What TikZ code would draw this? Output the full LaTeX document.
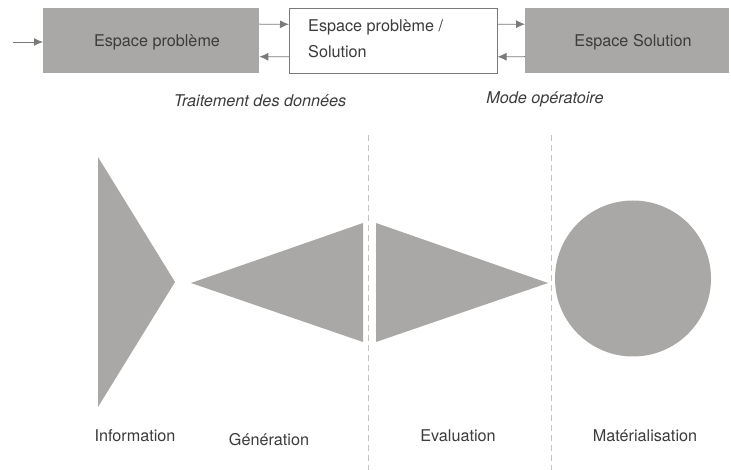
\documentclass[tikz,border=0pt]{standalone}
\usepackage{fontspec}
\setmainfont{TeX Gyre Heros}
\usetikzlibrary{arrows.meta}
\definecolor{shade}{HTML}{AAA7A7}
\definecolor{ink}{HTML}{3C3C3C}
\definecolor{wire}{HTML}{7A7A7A}
\definecolor{rule}{HTML}{C4C4C4}
\tikzset{
  graybox/.style={draw=none, fill=shade, minimum height=65pt, inner sep=0pt, text=ink},
  whitebox/.style={draw=wire, line width=0.6pt, fill=white, minimum height=65pt, inner sep=0pt},
  arr/.style={draw=wire, line width=0.9pt, -{Latex[length=9pt,width=8pt]}},
  txt/.style={text=ink, font=\fontsize{16.2}{19}\selectfont, inner sep=0pt},
  itxt/.style={txt, font=\fontsize{16.2}{19}\selectfont\itshape},
  phaseshape/.style={fill=shade, draw=none},
  sep/.style={draw=rule, line width=0.6pt, dash pattern=on 6pt off 4pt}
}
\begin{document}
\begin{tikzpicture}[x=1pt,y=-1pt]
\useasboundingbox[fill=white] (0,0) rectangle (731,470);

% top row: the three spaces
\node[graybox, minimum width=216pt, anchor=north west] (b1) at (43,8) {};
\node[txt] (t1) at (157,42) {Espace problème};
\node[whitebox, minimum width=208pt, anchor=north west] (b2) at (289,8) {};
\node[txt, anchor=west] (t2a) at (308,27) {Espace problème /};
\node[txt, anchor=west] (t2b) at (308,52) {Solution};
\node[graybox, minimum width=204pt, anchor=north west] (b3) at (525,8) {};
\node[txt] (t3) at (633,42) {Espace Solution};

% connectors
\coordinate (in) at (13,42);
\draw[arr] (in) -- (b1.west |- in);
\draw[arr] ([yshift=16.5pt]b1.east) -- ([yshift=16.5pt]b2.west);
\draw[arr] ([yshift=-16pt]b2.west) -- ([yshift=-16pt]b1.east);
\draw[arr] ([yshift=16.5pt]b2.east) -- ([yshift=16.5pt]b3.west);
\draw[arr] ([yshift=-16pt]b3.west) -- ([yshift=-16pt]b2.east);

% phase captions
\node[itxt] (c1) at (260,101) {Traitement des données};
\node[itxt] (c2) at (545,99) {Mode opératoire};

% dashed separators
\draw[sep] (368,135) -- (368,470);
\draw[sep] (551,135) -- (551,470);

% shapes of the four phases
\fill[phaseshape] (98,157) -- (175,282) -- (98,407) -- cycle;
\fill[phaseshape] (191,283) -- (363,223) -- (363,342) -- cycle;
\fill[phaseshape] (376,223) -- (548,283) -- (376,342) -- cycle;
\fill[phaseshape] (633,278.5) circle[radius=78];

% phase names
\node[txt] (l1) at (135,436) {Information};
\node[txt] (l2) at (269,440) {Génération};
\node[txt] (l3) at (458,436) {Evaluation};
\node[txt] (l4) at (645,436) {Matérialisation};
\end{tikzpicture}
\end{document}
